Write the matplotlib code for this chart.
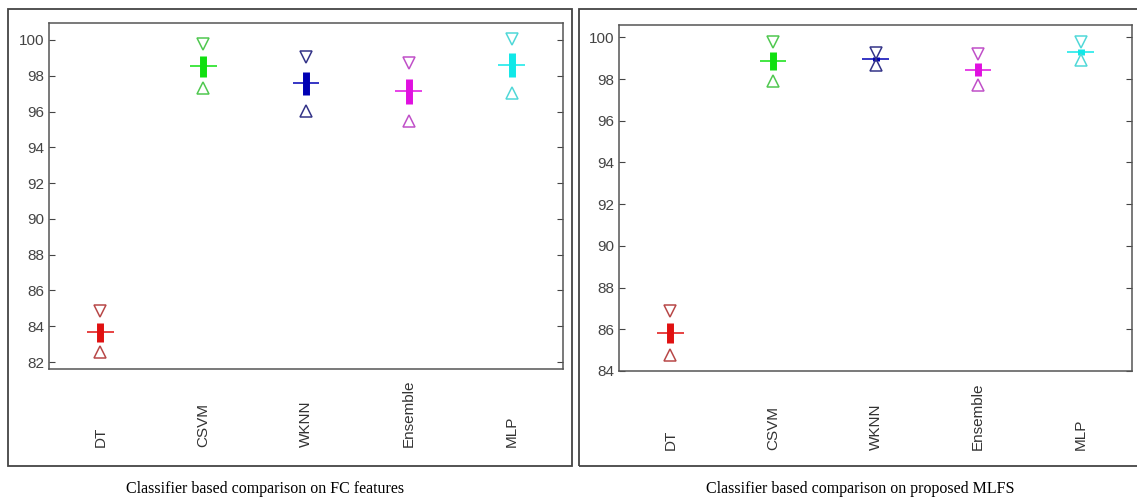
import matplotlib.pyplot as plt
from matplotlib.patches import Rectangle

# classifiers and colours
classifiers = ["DT", "CSVM", "WKNN", "Ensemble", "MLP"]
box_colors = ["#e01010", "#10e010", "#0000b4", "#e010e0", "#10e8e8"]
tri_colors = ["#b84848", "#50c850", "#343488", "#c050c8", "#50d8d8"]

# FC features
fc_upper = [84.86, 99.76, 99.07, 98.73, 100.06]
fc_q3 = [84.19, 99.10, 98.23, 97.82, 99.26]
fc_median = [83.69, 98.56, 97.58, 97.15, 98.60]
fc_q1 = [83.13, 97.95, 96.93, 96.41, 97.92]
fc_lower = [82.57, 97.34, 96.05, 95.49, 97.06]

# proposed MLFS
mlfs_upper = [86.88, 99.79, 99.27, 99.22, 99.76]
mlfs_q3 = [86.32, 99.31, 99.07, 98.79, 99.46]
mlfs_median = [85.81, 98.86, 98.96, 98.45, 99.30]
mlfs_q1 = [85.33, 98.43, 98.84, 98.14, 99.15]
mlfs_lower = [84.77, 97.90, 98.67, 97.71, 98.91]

W, H = 1137, 501
fig = plt.figure(figsize=(W / 100, H / 100), dpi=100)
plt.rcParams['font.family'] = ['Liberation Sans', 'DejaVu Sans']


def px_axes(x0, y0, x1, y1):
    return fig.add_axes([x0 / W, 1 - y1 / H, (x1 - x0) / W, (y1 - y0) / H])


def draw_panel(ax, upper, q3, med, q1, lower, ylim, yticks, pad):
    xs = range(1, len(classifiers) + 1)
    for i, x in enumerate(xs):
        ax.vlines(x, q1[i], q3[i], color=box_colors[i], lw=5)
        ax.hlines(med[i], x - 0.13, x + 0.13, color=box_colors[i], lw=1.1)
        ax.plot(x, upper[i], marker='v', ms=8, mfc='none', mec=tri_colors[i], mew=1.1)
        ax.plot(x, lower[i], marker='^', ms=8, mfc='none', mec=tri_colors[i], mew=1.1)
    ax.set_xlim(0.5, len(classifiers) + 0.5)
    ax.set_ylim(*ylim)
    ax.set_yticks(yticks)
    ax.set_xticks(list(xs), classifiers, rotation=90, va='bottom', fontsize=11, color='#333333')
    ax.tick_params(axis='x', length=0, pad=pad)
    ax.tick_params(axis='y', direction='in', right=True, length=4, labelsize=11,
                   labelcolor='#444444', color='#444444')
    for s in ax.spines.values():
        s.set_color('#555555')
        s.set_linewidth(1.1)


ax1 = px_axes(49, 23, 563, 369)
draw_panel(ax1, fc_upper, fc_q3, fc_median, fc_q1, fc_lower,
           (81.61, 100.95), range(82, 101, 2), 56)

ax2 = px_axes(619, 25, 1132, 371)
draw_panel(ax2, mlfs_upper, mlfs_q3, mlfs_median, mlfs_q1, mlfs_lower,
           (84, 100.59), range(84, 101, 2), 57)

# outer frames around each panel
for x0, x1 in [(8, 572), (579, 1142)]:
    fig.patches.append(Rectangle((x0 / W, 1 - 466 / H), (x1 - x0) / W, (466 - 9) / H,
                                 transform=fig.transFigure, fill=False,
                                 ec='#444444', lw=1.3))

fig.text(265 / W, 1 - 489 / H, "Classifier based comparison on FC features",
         ha='center', va='center', fontsize=11.5, family='Liberation Serif')
fig.text(860 / W, 1 - 489 / H, "Classifier based comparison on proposed MLFS",
         ha='center', va='center', fontsize=11.5, family='Liberation Serif')

fig.savefig("out.png", dpi=100)
